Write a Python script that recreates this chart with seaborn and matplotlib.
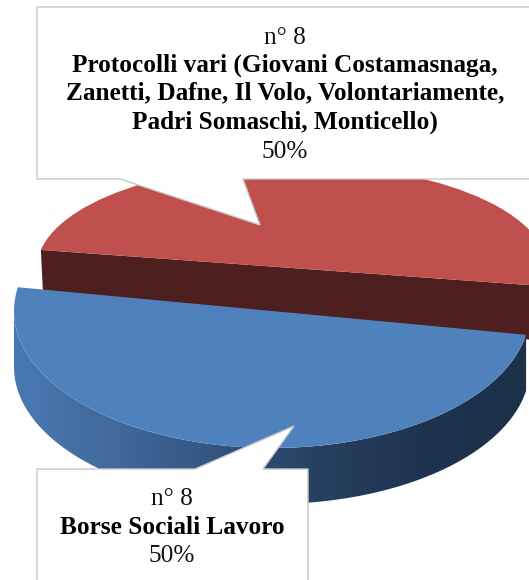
import numpy as np
import matplotlib
matplotlib.use("Agg")
import matplotlib.pyplot as plt
from matplotlib.patches import Polygon
from matplotlib.transforms import Affine2D
import seaborn as sns

# chart data
slices = ['Protocolli vari', 'Borse Sociali Lavoro']
counts = [8, 8]
percent_labels = ['50%', '50%']
count_labels = ['n° 8', 'n° 8']
top_title = ['Protocolli vari (Giovani Costamasnaga,',
             'Zanetti, Dafne, Il Volo, Volontariamente,',
             'Padri Somaschi, Monticello)']
bottom_title = ['Borse Sociali Lavoro']
side_stops = ['#4a7ab3', '#41699c', '#33547f', '#26405f', '#1e3350', '#1c3049']

sns.set_style('white')
plt.rcParams['font.family'] = ['Liberation Serif', 'DejaVu Serif']

fig = plt.figure(figsize=(5.29, 5.80), dpi=100)
ax = fig.add_axes([0, 0, 1, 1])

# top faces of the pie, squashed to look tilted
wedges, _ = ax.pie(counts, startangle=-10, colors=['#c0504d', '#4f81bd'],
                   wedgeprops={'linewidth': 0})
ax.set_aspect('auto')

# ellipse of each slice in pixels: center x, center y, width, height
red = (292, 268, 255, 104)
blue = (272, 311, 258, 137)


def arc(shape, t0, t1, drop=0):
    cx, cy, a, b = shape
    t = np.radians(np.linspace(t0, t1, 200))
    return np.column_stack([cx + a * np.cos(t), cy - b * np.sin(t) + drop])


for w, shape in zip(wedges, [red, blue]):
    cx, cy, a, b = shape
    w.set_transform(Affine2D().scale(a, -b).translate(cx, cy) + ax.transData)

wedges[0].set_zorder(3)
wedges[1].set_zorder(6)

# cut face of the red slice
ends = arc(red, wedges[0].theta1, wedges[0].theta2)[[0, -1]]
ax.add_patch(Polygon([ends[0], ends[1], ends[1] + [2, 41], ends[0] + [0, 55]],
                     facecolor='#4d1f1e', edgecolor='none', zorder=2))

# outer wall of the blue slice with a gradient
wall_top = arc(blue, max(wedges[1].theta1, 180), wedges[1].theta2)
wall_low = arc(blue, max(wedges[1].theta1, 180), wedges[1].theta2, drop=56)
wall = Polygon(np.vstack([wall_top, wall_low[::-1]]), facecolor='none',
               edgecolor='none', zorder=4)
ax.add_patch(wall)
cmap = sns.blend_palette(side_stops, as_cmap=True)
im = ax.imshow(np.linspace(0, 1, 256)[None, :], cmap=cmap, aspect='auto',
               extent=[10, 530, 510, 300], zorder=4)
im.set_clip_path(wall)

# callout boxes
ax.add_patch(Polygon([(37, 7), (535, 7), (535, 179), (243, 179), (260, 225),
                      (120, 179), (37, 179)],
                     facecolor='white', edgecolor='#c8c8c8', linewidth=1, zorder=8))
ax.add_patch(Polygon([(37, 469), (195, 469), (294, 426), (263, 469), (308, 469),
                      (308, 590), (37, 590)],
                     facecolor='white', edgecolor='#c8c8c8', linewidth=1, zorder=8))

ax.set_xlim(0, 529)
ax.set_ylim(580, 0)
ax.axis('off')

# labels
fs = 18.2
ax.text(285, 38, count_labels[0], ha='center', va='center', fontsize=fs, color='#111111', zorder=9)
for y, line in zip([65, 93, 122], top_title):
    ax.text(285, y, line, ha='center', va='center', fontsize=fs, fontweight='bold',
            color='#000000', zorder=9)
ax.text(285, 152, percent_labels[0], ha='center', va='center', fontsize=fs, color='#111111', zorder=9)

ax.text(172, 499, count_labels[1], ha='center', va='center', fontsize=fs, color='#111111', zorder=9)
ax.text(172, 528, bottom_title[0], ha='center', va='center', fontsize=fs, fontweight='bold',
        color='#000000', zorder=9)
ax.text(172, 556, percent_labels[1], ha='center', va='center', fontsize=fs, color='#111111', zorder=9)

fig.savefig('out.png', dpi=100)
